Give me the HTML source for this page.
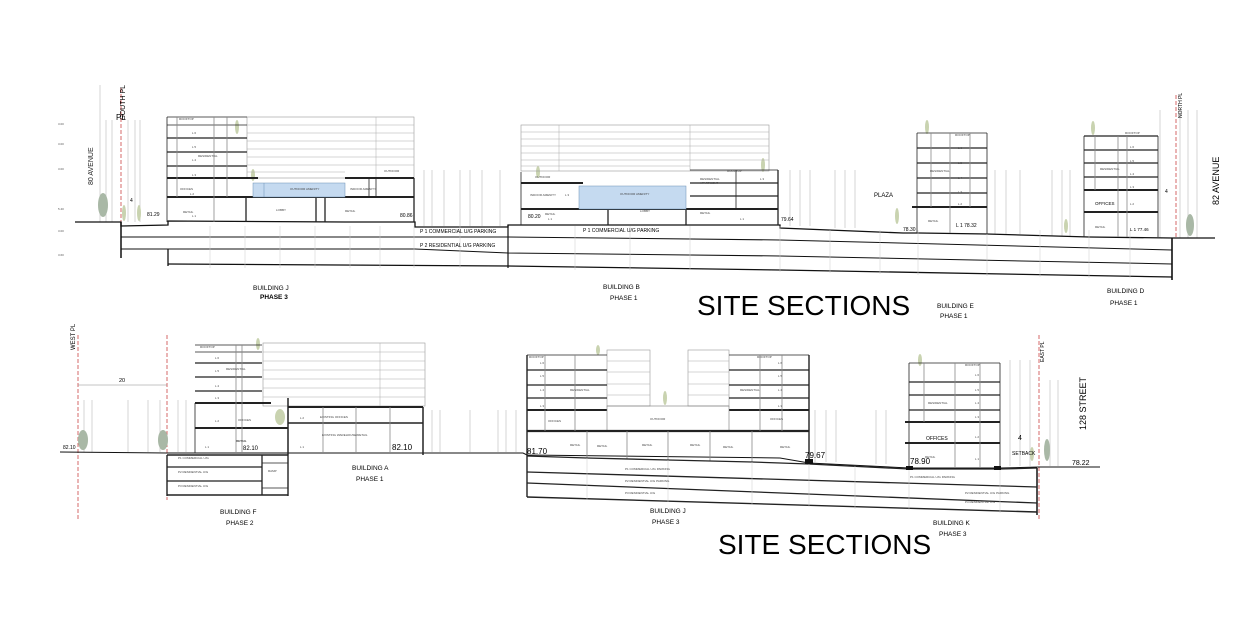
<!DOCTYPE html>
<html><head><meta charset="utf-8"><style>
html,body{margin:0;padding:0;background:#fff;}
svg{display:block;font-family:"Liberation Sans",sans-serif;}
.t{font-size:3px;fill:#444}
.lb{font-size:7px;fill:#222}
.v{font-size:3px;fill:#555}
</style></head><body>
<svg width="1253" height="636" viewBox="0 0 1253 636" xmlns="http://www.w3.org/2000/svg">
<rect width="1253" height="636" fill="#fff"/>
<!-- ================= TOP SECTION ================= -->
<g stroke="#bbb" stroke-width="0.6">
<line x1="100" y1="85" x2="100" y2="222"/><line x1="106" y1="120" x2="106" y2="222"/><line x1="112" y1="120" x2="112" y2="222"/>
<line x1="128" y1="120" x2="128" y2="222"/><line x1="135" y1="120" x2="135" y2="222"/><line x1="140" y1="120" x2="140" y2="222"/>
<line x1="424" y1="170" x2="424" y2="226"/><line x1="432" y1="170" x2="432" y2="226"/><line x1="444" y1="170" x2="444" y2="226"/><line x1="460" y1="170" x2="460" y2="226"/><line x1="470" y1="170" x2="470" y2="226"/><line x1="482" y1="170" x2="482" y2="226"/><line x1="500" y1="170" x2="500" y2="226"/>
<line x1="790" y1="170" x2="790" y2="226"/><line x1="800" y1="170" x2="800" y2="226"/><line x1="810" y1="170" x2="810" y2="226"/><line x1="835" y1="170" x2="835" y2="228"/><line x1="845" y1="170" x2="845" y2="228"/><line x1="855" y1="170" x2="855" y2="228"/>
<line x1="995" y1="170" x2="995" y2="234"/><line x1="1006" y1="170" x2="1006" y2="234"/><line x1="1020" y1="170" x2="1020" y2="234"/><line x1="1052" y1="170" x2="1052" y2="236"/><line x1="1062" y1="170" x2="1062" y2="236"/><line x1="1070" y1="170" x2="1070" y2="236"/>
<line x1="1160" y1="110" x2="1160" y2="238"/><line x1="1180" y1="110" x2="1180" y2="238"/><line x1="1188" y1="110" x2="1188" y2="238"/><line x1="1197" y1="110" x2="1197" y2="238"/>
</g>
<line x1="121" y1="88" x2="121" y2="258" stroke="#c44" stroke-width="0.8" stroke-dasharray="4,2"/>
<line x1="1176" y1="95" x2="1176" y2="238" stroke="#c44" stroke-width="0.8" stroke-dasharray="4,2"/>
<!-- trees -->
<g fill="#a9b8a6"><ellipse cx="103" cy="205" rx="5" ry="12"/><ellipse cx="1190" cy="225" rx="4" ry="11"/></g>
<g fill="#c9d3b0"><ellipse cx="124" cy="213" rx="2" ry="8"/><ellipse cx="139" cy="213" rx="2" ry="8"/><ellipse cx="237" cy="127" rx="2" ry="7"/><ellipse cx="253" cy="175" rx="2" ry="6"/><ellipse cx="763" cy="165" rx="2" ry="7"/><ellipse cx="538" cy="172" rx="2" ry="6"/><ellipse cx="927" cy="127" rx="2" ry="7"/><ellipse cx="1093" cy="128" rx="2" ry="7"/><ellipse cx="897" cy="216" rx="2" ry="8"/><ellipse cx="1066" cy="226" rx="2" ry="7"/></g>
<!-- ground & parking top -->
<g fill="none" stroke="#111">
<polyline stroke-width="1.3" points="75,222 121,222 121,226 168,225 168,221 345,222 415,222 415,227 508,227 508,225 780,225 780,228 903,233 919,233 987,234 1089,237 1172,238 1215,238"/>
<polyline stroke-width="1" points="121,237 508,237 780,240 1172,250"/>
<polyline stroke-width="1" points="121,249 415,249 508,253 780,256 1172,264"/>
<polyline stroke-width="1.3" points="168,264 508,266 780,270 1172,277"/>
<line x1="121" y1="222" x2="121" y2="258" stroke-width="1.5"/>
<line x1="1172" y1="238" x2="1172" y2="280" stroke-width="1.6"/>
<line x1="168" y1="249" x2="168" y2="266" stroke-width="1.3"/>
<line x1="508" y1="225" x2="508" y2="268" stroke-width="1.2"/>
</g>
<g stroke="#ccc" stroke-width="0.5">
<line x1="210" y1="226" x2="210" y2="268"/><line x1="245" y1="226" x2="245" y2="268"/><line x1="280" y1="226" x2="280" y2="268"/><line x1="315" y1="226" x2="315" y2="268"/><line x1="350" y1="226" x2="350" y2="268"/><line x1="380" y1="226" x2="380" y2="268"/><line x1="414" y1="226" x2="414" y2="268"/><line x1="460" y1="226" x2="460" y2="268"/>
<line x1="575" y1="226" x2="575" y2="270"/><line x1="630" y1="226" x2="630" y2="270"/><line x1="690" y1="226" x2="690" y2="270"/><line x1="780" y1="226" x2="780" y2="272"/><line x1="830" y1="230" x2="830" y2="273"/><line x1="880" y1="230" x2="880" y2="274"/><line x1="918" y1="230" x2="918" y2="275"/><line x1="987" y1="230" x2="987" y2="276"/><line x1="1040" y1="230" x2="1040" y2="277"/><line x1="1089" y1="230" x2="1089" y2="278"/><line x1="1130" y1="230" x2="1130" y2="278"/>
</g>
<!-- Building J top -->
<g fill="none" stroke="#222" stroke-width="0.8">
<rect x="247" y="117" width="167" height="61" stroke="#999" stroke-width="0.6"/>
<g stroke="#aaa" stroke-width="0.5"><line x1="247" y1="125" x2="414" y2="125"/><line x1="247" y1="133" x2="414" y2="133"/><line x1="247" y1="141" x2="414" y2="141"/><line x1="247" y1="149" x2="414" y2="149"/><line x1="247" y1="157" x2="414" y2="157"/><line x1="247" y1="165" x2="414" y2="165"/><line x1="247" y1="172" x2="345" y2="172"/><line x1="376" y1="117" x2="376" y2="178"/></g>
<line x1="167" y1="117" x2="247" y2="117"/><line x1="167" y1="125" x2="247" y2="125"/>
<line x1="167" y1="138" x2="247" y2="138" stroke-width="1.2"/><line x1="167" y1="152" x2="247" y2="152" stroke-width="1.2"/><line x1="167" y1="166" x2="247" y2="166" stroke-width="1.2"/>
<line x1="167" y1="178" x2="258" y2="178" stroke-width="2"/><line x1="345" y1="178" x2="414" y2="178" stroke-width="2"/>
<line x1="167" y1="197" x2="414" y2="197" stroke-width="2"/>
<line x1="167" y1="117" x2="167" y2="222"/><line x1="177" y1="117" x2="177" y2="197" stroke="#888"/><line x1="214" y1="117" x2="214" y2="222" stroke="#888"/><line x1="227" y1="117" x2="227" y2="197" stroke="#888"/>
<line x1="246" y1="197" x2="246" y2="222" stroke-width="1.3"/><line x1="316" y1="197" x2="316" y2="222" stroke-width="1.3"/><line x1="325" y1="197" x2="325" y2="222" stroke-width="1.3"/><line x1="414" y1="178" x2="414" y2="222" stroke-width="1.3"/>
<line x1="369" y1="178" x2="369" y2="197"/><line x1="376" y1="178" x2="376" y2="197"/>
</g>
<rect x="253" y="183" width="92" height="14" fill="#c5daf0" stroke="#6a8fb5" stroke-width="0.5"/>
<line x1="264" y1="183" x2="264" y2="197" stroke="#6a8fb5" stroke-width="0.5"/>
<!-- Building B top -->
<g fill="none" stroke="#222" stroke-width="0.8">
<rect x="521" y="125" width="248" height="46" stroke="#999" stroke-width="0.6"/>
<g stroke="#aaa" stroke-width="0.5"><line x1="521" y1="132" x2="769" y2="132"/><line x1="521" y1="139" x2="769" y2="139"/><line x1="521" y1="146" x2="769" y2="146"/><line x1="521" y1="153" x2="769" y2="153"/><line x1="521" y1="160" x2="769" y2="160"/><line x1="521" y1="166" x2="690" y2="166"/><line x1="559" y1="125" x2="559" y2="171"/><line x1="690" y1="125" x2="690" y2="171"/></g>
<line x1="521" y1="183" x2="583" y2="183" stroke-width="2"/><line x1="521" y1="172" x2="521" y2="225"/>
<line x1="690" y1="170" x2="778" y2="170"/><line x1="690" y1="183" x2="778" y2="183" stroke-width="1.2"/><line x1="690" y1="196" x2="778" y2="196" stroke-width="1.2"/>
<line x1="521" y1="209" x2="778" y2="209" stroke-width="2"/>
<line x1="608" y1="209" x2="608" y2="225" stroke-width="1.3"/><line x1="686" y1="209" x2="686" y2="225" stroke-width="1.3"/><line x1="778" y1="170" x2="778" y2="225" stroke-width="1.3"/><line x1="736" y1="170" x2="736" y2="209"/>
</g>
<rect x="579" y="186" width="107" height="23" fill="#c5daf0" stroke="#6a8fb5" stroke-width="0.5"/>
<!-- Building E -->
<g fill="none" stroke="#222" stroke-width="0.8">
<line x1="917" y1="133" x2="987" y2="133"/><line x1="917" y1="148" x2="987" y2="148" stroke-width="1.2"/><line x1="917" y1="163" x2="987" y2="163" stroke-width="1.2"/><line x1="917" y1="178" x2="987" y2="178" stroke-width="1.2"/><line x1="917" y1="193" x2="987" y2="193" stroke-width="1.2"/>
<line x1="912" y1="207" x2="987" y2="207" stroke-width="2"/>
<line x1="917" y1="133" x2="917" y2="233"/><line x1="987" y1="133" x2="987" y2="234"/><line x1="931" y1="133" x2="931" y2="207" stroke="#888"/><line x1="950" y1="133" x2="950" y2="233" stroke="#888"/><line x1="970" y1="133" x2="970" y2="207" stroke="#888"/>
</g>
<!-- Building D -->
<g fill="none" stroke="#222" stroke-width="0.8">
<line x1="1084" y1="136" x2="1158" y2="136" stroke-width="1.2"/><line x1="1084" y1="150" x2="1158" y2="150" stroke-width="1.2"/><line x1="1084" y1="163" x2="1158" y2="163" stroke-width="1.2"/><line x1="1084" y1="177" x2="1158" y2="177" stroke-width="1.2"/>
<line x1="1084" y1="190" x2="1158" y2="190" stroke-width="2"/><line x1="1084" y1="212" x2="1158" y2="212" stroke-width="2"/>
<line x1="1084" y1="136" x2="1084" y2="237"/><line x1="1158" y1="136" x2="1158" y2="237"/><line x1="1118" y1="136" x2="1118" y2="237" stroke="#888"/><line x1="1127" y1="136" x2="1127" y2="237" stroke="#888"/><line x1="1095" y1="136" x2="1095" y2="190" stroke="#888"/>
</g>
<!-- top labels -->
<text x="93" y="185" class="lb" transform="rotate(-90 93 185)" font-size="9">80 AVENUE</text>
<text x="125" y="120" transform="rotate(-90 125 120)" style="font-size:7px">SOUTH PL</text>
<text x="116" y="120" style="font-size:8px">PL</text>
<text x="1219" y="205" transform="rotate(-90 1219 205)" style="font-size:9px">82 AVENUE</text>
<text x="1182" y="118" transform="rotate(-90 1182 118)" style="font-size:5px">NORTH PL</text>
<text x="179" y="120" class="t">ROOFTOP</text><text x="192" y="134" class="t">L 6</text><text x="192" y="148" class="t">L 5</text><text x="192" y="161" class="t">L 4</text><text x="198" y="157" class="t">RESIDENTIAL</text><text x="192" y="176" class="t">L 3</text><text x="180" y="190" class="t">OFFICES</text><text x="190" y="195" class="t">L 2</text><text x="183" y="213" class="t">RETAIL</text><text x="192" y="217" class="t">L 1</text>
<text x="276" y="211" class="t">LOBBY</text><text x="345" y="212" class="t">RETAIL</text><text x="290" y="190" class="t">OUTDOOR AMENITY</text><text x="350" y="190" class="t">INDOOR AMENITY</text><text x="384" y="172" class="t">OUTDOOR</text>
<text x="147" y="216" style="font-size:5px">81.29</text><text x="400" y="217" style="font-size:5px">80.86</text>
<text x="130" y="202" style="font-size:5px">4</text>
<text x="420" y="233" style="font-size:5px">P 1 COMMERCIAL U/G PARKING</text><text x="420" y="247" style="font-size:5px">P 2 RESIDENTIAL U/G PARKING</text>
<text x="583" y="232" style="font-size:5px">P 1 COMMERCIAL U/G PARKING</text>
<text x="530" y="196" class="t">INDOOR AMENITY</text><text x="565" y="196" class="t">L 3</text><text x="620" y="195" class="t">OUTDOOR AMENITY</text><text x="535" y="178" class="t">OUTDOOR</text>
<text x="700" y="180" class="t">RESIDENTIAL</text><text x="700" y="184" class="t">APARTMENT</text><text x="727" y="172" class="t">ROOFTOP</text><text x="760" y="180" class="t">L 3</text>
<text x="545" y="215" class="t">RETAIL</text><text x="640" y="212" class="t">LOBBY</text><text x="700" y="214" class="t">RETAIL</text><text x="740" y="220" class="t">L 1</text><text x="548" y="220" class="t">L 1</text>
<text x="528" y="218" style="font-size:5px">80.20</text><text x="781" y="221" style="font-size:5px">79.64</text>
<text x="874" y="197" style="font-size:6px">PLAZA</text>
<text x="903" y="231" style="font-size:5px">78.30</text><text x="956" y="227" style="font-size:5px">L 1  78.32</text><text x="928" y="222" class="t">RETAIL</text>
<text x="955" y="136" class="t">ROOFTOP</text><text x="958" y="149" class="t">L 6</text><text x="958" y="164" class="t">L 5</text><text x="930" y="172" class="t">RESIDENTIAL</text><text x="958" y="179" class="t">L 4</text><text x="958" y="193" class="t">L 3</text><text x="958" y="205" class="t">L 2</text>
<text x="1125" y="134" class="t">ROOFTOP</text><text x="1130" y="148" class="t">L 6</text><text x="1130" y="162" class="t">L 5</text><text x="1100" y="170" class="t">RESIDENTIAL</text><text x="1130" y="175" class="t">L 4</text><text x="1130" y="188" class="t">L 3</text>
<text x="1095" y="205" style="font-size:4.5px">OFFICES</text><text x="1130" y="205" class="t">L 2</text><text x="1095" y="228" class="t">RETAIL</text><text x="1130" y="231" style="font-size:4.5px">L 1  77.46</text><text x="1165" y="193" style="font-size:5px">4</text>
<text x="253" y="290" style="font-size:6.5px">BUILDING J</text><text x="260" y="289" style="font-size:6.5px;font-weight:bold" dy="10">PHASE 3</text>
<text x="603" y="289" style="font-size:6.5px">BUILDING B</text><text x="610" y="300" style="font-size:6.5px">PHASE 1</text>
<text x="937" y="308" style="font-size:6.5px">BUILDING E</text><text x="940" y="318" style="font-size:6.5px">PHASE 1</text>
<text x="1107" y="293" style="font-size:6.5px">BUILDING D</text><text x="1110" y="305" style="font-size:6.5px">PHASE 1</text>
<text x="697" y="315" style="font-size:28px">SITE SECTIONS</text>
<g class="v"><text x="58" y="125" class="v">3.00</text><text x="58" y="145" class="v">3.00</text><text x="58" y="170" class="v">3.00</text><text x="58" y="210" class="v">5.40</text><text x="58" y="232" class="v">3.00</text><text x="58" y="256" class="v">3.60</text></g>

<!-- ================= BOTTOM SECTION ================= -->
<line x1="78" y1="335" x2="78" y2="520" stroke="#c44" stroke-width="0.8" stroke-dasharray="4,2"/>
<line x1="167" y1="335" x2="167" y2="500" stroke="#c44" stroke-width="0.8" stroke-dasharray="4,2"/>
<line x1="1039" y1="335" x2="1039" y2="520" stroke="#c44" stroke-width="0.8" stroke-dasharray="4,2"/>
<text x="75" y="350" transform="rotate(-90 75 350)" style="font-size:6px">WEST PL</text>
<text x="1044" y="362" transform="rotate(-90 1044 362)" style="font-size:5px">EAST PL</text>
<line x1="78" y1="385" x2="167" y2="385" stroke="#888" stroke-width="0.5"/><text x="119" y="382" style="font-size:5.5px">20</text>
<g stroke="#bbb" stroke-width="0.6">
<line x1="84" y1="400" x2="84" y2="452"/><line x1="92" y1="400" x2="92" y2="452"/><line x1="128" y1="400" x2="128" y2="452"/><line x1="148" y1="400" x2="148" y2="452"/><line x1="160" y1="400" x2="160" y2="452"/><line x1="178" y1="400" x2="178" y2="452"/><line x1="186" y1="400" x2="186" y2="452"/>
<line x1="432" y1="410" x2="432" y2="452"/><line x1="440" y1="410" x2="440" y2="452"/><line x1="470" y1="410" x2="470" y2="452"/><line x1="498" y1="410" x2="498" y2="452"/><line x1="506" y1="410" x2="506" y2="452"/><line x1="516" y1="410" x2="516" y2="452"/>
<line x1="815" y1="410" x2="815" y2="462"/><line x1="826" y1="410" x2="826" y2="462"/><line x1="836" y1="410" x2="836" y2="462"/><line x1="876" y1="410" x2="876" y2="464"/><line x1="886" y1="410" x2="886" y2="464"/>
<line x1="1010" y1="360" x2="1010" y2="466"/><line x1="1020" y1="360" x2="1020" y2="466"/><line x1="1030" y1="360" x2="1030" y2="466"/><line x1="1050" y1="380" x2="1050" y2="466"/><line x1="1058" y1="380" x2="1058" y2="466"/>
</g>
<g fill="#a9b8a6"><ellipse cx="83" cy="440" rx="5" ry="10"/><ellipse cx="163" cy="440" rx="5" ry="10"/><ellipse cx="1047" cy="450" rx="3" ry="11"/></g>
<g fill="#c9d3b0"><ellipse cx="280" cy="417" rx="5" ry="8"/><ellipse cx="258" cy="344" rx="2" ry="6"/><ellipse cx="598" cy="350" rx="2" ry="5"/><ellipse cx="665" cy="398" rx="2" ry="7"/><ellipse cx="920" cy="360" rx="2" ry="6"/><ellipse cx="1032" cy="454" rx="2" ry="7"/></g>
<!-- ground bottom -->
<g fill="none" stroke="#111">
<polyline stroke-width="1" points="60,452 167,453 423,453 523,453 527,455 780,458 809,463 909,468 1000,468 1039,467 1100,467"/>
</g>
<!-- Building F -->
<g fill="none" stroke="#222" stroke-width="0.8">
<rect x="263" y="343" width="162" height="63" stroke="#999" stroke-width="0.6"/>
<g stroke="#aaa" stroke-width="0.5"><line x1="263" y1="352" x2="425" y2="352"/><line x1="263" y1="361" x2="425" y2="361"/><line x1="263" y1="370" x2="425" y2="370"/><line x1="263" y1="379" x2="425" y2="379"/><line x1="263" y1="388" x2="425" y2="388"/><line x1="263" y1="397" x2="425" y2="397"/><line x1="380" y1="343" x2="380" y2="406"/></g>
<line x1="195" y1="345" x2="262" y2="345"/><line x1="195" y1="352" x2="262" y2="352"/>
<line x1="195" y1="363" x2="262" y2="363" stroke-width="1.2"/><line x1="195" y1="377" x2="262" y2="377" stroke-width="1.2"/><line x1="195" y1="391" x2="262" y2="391" stroke-width="1.2"/>
<line x1="195" y1="403" x2="271" y2="403" stroke-width="2"/><line x1="195" y1="428" x2="288" y2="428" stroke-width="2"/>
<line x1="195" y1="403" x2="195" y2="453"/><line x1="236" y1="345" x2="236" y2="453" stroke="#888"/><line x1="242" y1="345" x2="242" y2="453" stroke="#888"/>
<line x1="288" y1="398" x2="288" y2="455" stroke-width="1.5"/>
<!-- basement -->
<line x1="167" y1="455" x2="288" y2="455" stroke-width="1.4"/><line x1="167" y1="467" x2="262" y2="467" stroke-width="1.3"/><line x1="167" y1="481" x2="262" y2="481" stroke-width="1.3"/><line x1="167" y1="495" x2="288" y2="495" stroke-width="1.4"/>
<line x1="167" y1="455" x2="167" y2="496" stroke-width="1.4"/><line x1="262" y1="455" x2="262" y2="495" stroke-width="1.3"/><line x1="288" y1="455" x2="288" y2="496" stroke-width="1.4"/>
<line x1="262" y1="463" x2="288" y2="463"/><line x1="262" y1="488" x2="288" y2="488"/>
<!-- Building A -->
<line x1="288" y1="407" x2="423" y2="407" stroke-width="2"/><line x1="288" y1="423" x2="423" y2="423" stroke-width="1.5"/>
<line x1="423" y1="407" x2="423" y2="455" stroke-width="1.5"/><line x1="323" y1="407" x2="323" y2="453" stroke="#888"/><line x1="356" y1="407" x2="356" y2="453" stroke="#888"/><line x1="390" y1="407" x2="390" y2="453" stroke="#888"/>
</g>
<text x="200" y="348" class="t">ROOFTOP</text><text x="215" y="359" class="t">L 6</text><text x="215" y="372" class="t">L 5</text><text x="226" y="370" class="t">RESIDENTIAL</text><text x="215" y="387" class="t">L 4</text><text x="215" y="399" class="t">L 3</text>
<text x="215" y="422" class="t">L 2</text><text x="238" y="421" class="t">OFFICES</text><text x="205" y="448" class="t">L 1</text><text x="236" y="442" class="t" font-weight="bold">RETAIL</text><text x="243" y="450" style="font-size:6px">82.10</text>
<text x="178" y="459" class="t">P1 COMMERCIAL U/G</text><text x="178" y="473" class="t">P2 RESIDENTIAL U/G</text><text x="178" y="487" class="t">P3 RESIDENTIAL U/G</text><text x="268" y="472" class="t">RAMP</text>
<text x="300" y="419" class="t">L 2</text><text x="320" y="418" class="t">EXISTING OFFICES</text><text x="300" y="448" class="t">L 1</text><text x="322" y="436" class="t">EXISTING WAREHOUSE/RETAIL</text><text x="392" y="450" style="font-size:8px">82.10</text>
<text x="63" y="449" style="font-size:5px">82.10</text>
<text x="352" y="470" style="font-size:6.5px">BUILDING A</text><text x="356" y="481" style="font-size:6.5px">PHASE 1</text>
<text x="220" y="514" style="font-size:6.5px">BUILDING F</text><text x="226" y="525" style="font-size:6.5px">PHASE 2</text>
<!-- Building J bottom -->
<g fill="none" stroke="#222" stroke-width="0.8">
<rect x="607" y="350" width="43" height="56" stroke="#999" stroke-width="0.6"/><rect x="688" y="350" width="41" height="56" stroke="#999" stroke-width="0.6"/>
<g stroke="#aaa" stroke-width="0.5"><line x1="607" y1="361" x2="650" y2="361"/><line x1="607" y1="372" x2="650" y2="372"/><line x1="607" y1="384" x2="650" y2="384"/><line x1="607" y1="395" x2="650" y2="395"/><line x1="688" y1="361" x2="729" y2="361"/><line x1="688" y1="372" x2="729" y2="372"/><line x1="688" y1="384" x2="729" y2="384"/><line x1="688" y1="395" x2="729" y2="395"/></g>
<line x1="527" y1="355" x2="607" y2="355"/><line x1="527" y1="370" x2="607" y2="370" stroke-width="1.2"/><line x1="527" y1="385" x2="607" y2="385" stroke-width="1.2"/><line x1="527" y1="398" x2="607" y2="398" stroke-width="1.2"/>
<line x1="729" y1="355" x2="809" y2="355"/><line x1="729" y1="370" x2="809" y2="370" stroke-width="1.2"/><line x1="729" y1="385" x2="809" y2="385" stroke-width="1.2"/><line x1="729" y1="398" x2="809" y2="398" stroke-width="1.2"/>
<line x1="527" y1="410" x2="607" y2="410" stroke-width="2"/><line x1="729" y1="410" x2="809" y2="410" stroke-width="2"/>
<rect x="607" y="406" width="122" height="25" stroke="#777" stroke-width="0.6"/>
<line x1="527" y1="431" x2="809" y2="431" stroke-width="2.2"/>
<line x1="527" y1="355" x2="527" y2="497" stroke-width="1.4"/><line x1="809" y1="355" x2="809" y2="463" stroke-width="1.4"/>
<line x1="545" y1="355" x2="545" y2="431" stroke="#888"/><line x1="575" y1="355" x2="575" y2="431" stroke="#888"/><line x1="760" y1="355" x2="760" y2="431" stroke="#888"/><line x1="782" y1="355" x2="782" y2="431" stroke="#888"/>
<line x1="587" y1="431" x2="587" y2="458" stroke="#888"/><line x1="627" y1="431" x2="627" y2="459" stroke="#888"/><line x1="668" y1="431" x2="668" y2="460" stroke="#888"/><line x1="710" y1="431" x2="710" y2="461" stroke="#888"/><line x1="752" y1="431" x2="752" y2="462" stroke="#888"/>
<!-- parking -->
<polyline stroke-width="1.3" points="527,456 587,458 668,460 752,462 809,464 909,469 1000,469 1037,468"/>
<line x1="527" y1="472" x2="1037" y2="487" stroke-width="1.3"/>
<line x1="527" y1="483" x2="1037" y2="503" stroke-width="1.3"/>
<line x1="527" y1="497" x2="1037" y2="512" stroke-width="1.4"/>
<line x1="1037" y1="468" x2="1037" y2="515" stroke-width="1.6"/>
<!-- Building K -->
<line x1="909" y1="363" x2="1000" y2="363"/><line x1="909" y1="382" x2="1000" y2="382" stroke-width="1.2"/><line x1="909" y1="395" x2="1000" y2="395" stroke-width="1.2"/><line x1="909" y1="410" x2="1000" y2="410" stroke-width="1.2"/>
<line x1="905" y1="422" x2="1000" y2="422" stroke-width="2"/><line x1="905" y1="443" x2="1000" y2="443" stroke-width="2"/>
<line x1="909" y1="363" x2="909" y2="468"/><line x1="1000" y1="363" x2="1000" y2="468"/><line x1="924" y1="363" x2="924" y2="422" stroke="#888"/><line x1="955" y1="363" x2="955" y2="468" stroke="#888"/><line x1="980" y1="363" x2="980" y2="468" stroke="#888"/>
</g>
<g stroke="#ccc" stroke-width="0.5"><line x1="587" y1="458" x2="587" y2="500"/><line x1="668" y1="460" x2="668" y2="502"/><line x1="752" y1="462" x2="752" y2="505"/><line x1="809" y1="464" x2="809" y2="507"/><line x1="855" y1="466" x2="855" y2="509"/><line x1="909" y1="469" x2="909" y2="510"/><line x1="1000" y1="469" x2="1000" y2="513"/></g>
<rect x="805" y="459" width="8" height="5" fill="#111"/><rect x="906" y="466" width="7" height="4" fill="#111"/><rect x="994" y="466" width="7" height="4" fill="#111"/>
<text x="529" y="358" class="t">ROOFTOP</text><text x="540" y="364" class="t">L 6</text><text x="540" y="377" class="t">L 5</text><text x="540" y="391" class="t">L 4</text><text x="570" y="391" class="t">RESIDENTIAL</text><text x="540" y="407" class="t">L 3</text>
<text x="757" y="358" class="t">ROOFTOP</text><text x="778" y="364" class="t">L 6</text><text x="778" y="377" class="t">L 5</text><text x="778" y="391" class="t">L 4</text><text x="740" y="391" class="t">RESIDENTIAL</text><text x="778" y="407" class="t">L 3</text>
<text x="548" y="422" class="t">OFFICES</text><text x="650" y="420" class="t">OUTDOOR</text><text x="770" y="420" class="t">OFFICES</text>
<text x="570" y="446" class="t">RETAIL</text><text x="597" y="447" class="t">RETAIL</text><text x="642" y="446" class="t">RETAIL</text><text x="690" y="446" class="t">RETAIL</text><text x="723" y="448" class="t">RETAIL</text><text x="780" y="448" class="t">RETAIL</text>
<text x="527" y="454" style="font-size:8px">81.70</text><text x="805" y="458" style="font-size:8px">79.67</text><text x="910" y="464" style="font-size:8px">78.90</text><text x="1072" y="465" style="font-size:7px">78.22</text>
<text x="625" y="470" class="t">P1 COMMERCIAL U/G PARKING</text><text x="625" y="482" class="t">P2 RESIDENTIAL U/G PARKING</text><text x="625" y="494" class="t">P3 RESIDENTIAL U/G</text>
<text x="910" y="478" class="t">P1 COMMERCIAL U/G PARKING</text><text x="965" y="494" class="t">P2 RESIDENTIAL U/G PARKING</text><text x="965" y="503" class="t">P3 RESIDENTIAL U/G</text>
<text x="965" y="366" class="t">ROOFTOP</text><text x="975" y="376" class="t">L 6</text><text x="975" y="391" class="t">L 5</text><text x="928" y="404" class="t">RESIDENTIAL</text><text x="975" y="404" class="t">L 4</text><text x="975" y="418" class="t">L 3</text>
<text x="926" y="440" style="font-size:5px">OFFICES</text><text x="975" y="438" class="t">L 2</text><text x="925" y="458" class="t">RETAIL</text><text x="975" y="460" class="t">L 1</text>
<text x="1018" y="440" style="font-size:7px">4</text><text x="1012" y="455" style="font-size:5px">SETBACK</text>
<text x="1086" y="430" transform="rotate(-90 1086 430)" style="font-size:9px">128 STREET</text>
<text x="650" y="513" style="font-size:6.5px">BUILDING J</text><text x="652" y="524" style="font-size:6.5px">PHASE 3</text>
<text x="933" y="525" style="font-size:6.5px">BUILDING K</text><text x="939" y="536" style="font-size:6.5px">PHASE 3</text>
<text x="718" y="554" style="font-size:28px">SITE SECTIONS</text>
</svg>
</body></html>
